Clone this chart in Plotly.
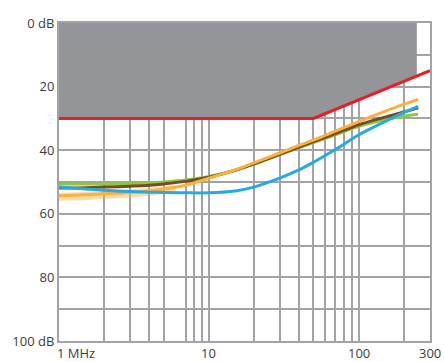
import numpy as np
import plotly.graph_objects as go

# ---- data ----
freq = [1, 1.5, 2, 3, 4, 5, 7, 10, 15, 20, 30, 40, 50, 70, 100, 150, 200, 250]
blue = [51.6, 52.2, 52.6, 53.0, 53.2, 53.3, 53.4, 53.4, 52.8, 51.6, 48.7, 46.2, 43.8, 39.8, 35.2, 31.0, 28.2, 26.2]
orange = [54.3, 54.0, 53.7, 53.3, 52.8, 52.2, 51.0, 48.8, 46.2, 44.0, 40.8, 38.5, 36.8, 34.0, 31.0, 27.8, 25.6, 24.0]
brown = [51.9, 51.8, 51.6, 51.3, 51.0, 50.6, 49.8, 48.5, 46.3, 44.3, 41.2, 39.0, 37.3, 34.8, 32.0, 29.6, 28.0, 26.7]
green = [50.6, 50.6, 50.6, 50.5, 50.3, 50.0, 49.4, 48.3, 46.3, 44.4, 41.4, 39.2, 37.6, 35.2, 32.5, 30.4, 29.3, 28.7]
noise_freq = [1, 1.5, 2, 3, 4, 5, 6]
noise_orange = [54.6, 54.4, 54.0, 53.6, 53.1, 52.5, 52.0]

limit_freq = [1, 50, 300]
limit_db = [30, 30, 15]
fill_end = 245

x_grid = [1, 2, 3, 4, 5, 7, 8, 9, 10, 20, 30, 40, 50, 60, 70, 80, 90, 100, 200, 300]
x_labels = [(1, "1 MHz"), (10, "10"), (100, "100"), (300, "300")]
y_grid = list(range(0, 101, 10))
y_text = {0: "0 dB", 20: "20", 40: "40", 60: "60", 80: "80", 100: "100 dB"}

GRID = "#a3a3a5"
TEXT = "#3c3c3c"
FONT = "Open Sans"

# limit line value at the end of the shaded area
def limit_at(f):
    return float(np.interp(np.log10(f), np.log10(limit_freq), limit_db))

fill_x = [limit_freq[0], fill_end, fill_end] + [f for f in limit_freq[::-1] if f < fill_end] + [limit_freq[0]]
fill_y = [0, 0, limit_at(fill_end)] + [d for f, d in zip(limit_freq[::-1], limit_db[::-1]) if f < fill_end] + [0]

fig = go.Figure()
fig.add_trace(go.Scatter(x=fill_x, y=fill_y, fill="toself", fillcolor="#939598",
                         line=dict(width=0), mode="lines", hoverinfo="skip"))
fig.add_trace(go.Scatter(x=limit_freq, y=limit_db, mode="lines",
                         line=dict(color="#ed1c24", width=3)))
fig.add_trace(go.Scatter(x=noise_freq, y=noise_orange, mode="lines",
                         line=dict(color="rgba(251,176,64,0.45)", width=8, shape="spline")))
fig.add_trace(go.Scatter(x=freq, y=green, mode="lines",
                         line=dict(color="#8dc63f", width=3, shape="spline")))
fig.add_trace(go.Scatter(x=freq, y=brown, mode="lines",
                         line=dict(color="#754c24", width=3, shape="spline")))
fig.add_trace(go.Scatter(x=freq, y=orange, mode="lines",
                         line=dict(color="#fbb040", width=3, shape="spline")))
fig.add_trace(go.Scatter(x=freq, y=blue, mode="lines",
                         line=dict(color="#27aae1", width=3, shape="spline")))

for v, t in x_labels:
    fig.add_annotation(x=np.log10(v), y=0, yref="paper", yanchor="top", yshift=-1,
                       xanchor="left" if v == 1 else "center", xshift=-4 if v == 1 else 0,
                       text=t, showarrow=False,
                       font=dict(family=FONT, size=13, color=TEXT))

fig.update_layout(
    width=444, height=362, showlegend=False,
    margin=dict(l=57, r=12, t=23, b=18),
    paper_bgcolor="white", plot_bgcolor="white",
    xaxis=dict(type="log", range=[0, np.log10(300)], tickvals=x_grid,
               showticklabels=False, showgrid=True, gridcolor=GRID, gridwidth=2,
               showline=True, mirror=True, linecolor=GRID, linewidth=2,
               zeroline=False, ticks=""),
    yaxis=dict(range=[100, 0], tickvals=y_grid,
               ticktext=[y_text.get(v, "") for v in y_grid],
               showgrid=True, gridcolor=GRID, gridwidth=2,
               showline=True, mirror=True, linecolor=GRID, linewidth=2,
               zeroline=False, ticks="",
               tickfont=dict(family=FONT, size=13, color=TEXT)),
)

fig.write_html("out.html", config={"displayModeBar": False},
               post_script="document.body.style.margin='0';")
